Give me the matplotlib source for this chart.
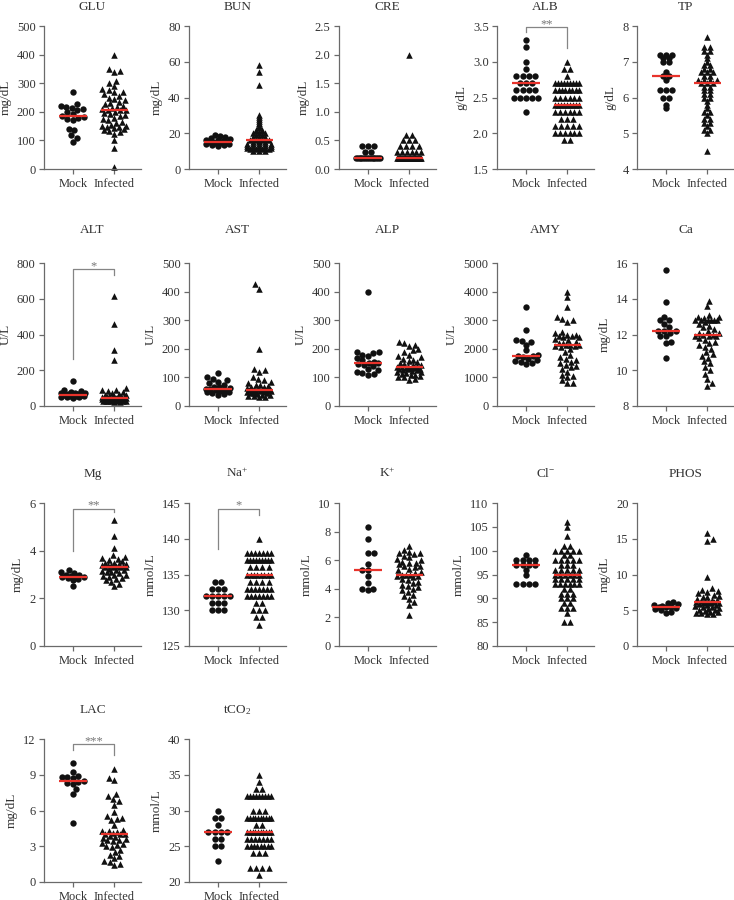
import numpy as np
import matplotlib
matplotlib.use('Agg')
import matplotlib.pyplot as plt

plt.rcParams['font.family'] = ['Liberation Serif', 'DejaVu Serif']
plt.rcParams['mathtext.fontset'] = 'custom'
plt.rcParams['mathtext.rm'] = 'Liberation Serif'
plt.rcParams['mathtext.it'] = 'Liberation Serif:italic'
plt.rcParams['mathtext.bf'] = 'Liberation Serif:bold'

# ---------------- data ----------------
groups = ['Mock', 'Infected']

titles = ['GLU', 'BUN', 'CRE', 'ALB', 'TP',
          'ALT', 'AST', 'ALP', 'AMY', 'Ca',
          'Mg', 'Na$^{+}$', 'K$^{+}$', 'Cl$^{-}$', 'PHOS',
          'LAC', 'tCO$_{2}$']
units = ['mg/dL', 'mg/dL', 'mg/dL', 'g/dL', 'g/dL',
         'U/L', 'U/L', 'U/L', 'U/L', 'mg/dL',
         'mg/dL', 'mmol/L', 'mmol/L', 'mmol/L', 'mg/dL',
         'mg/dL', 'mmol/L']

yticks = [
    [0, 100, 200, 300, 400, 500], [0, 20, 40, 60, 80], [0.0, 0.5, 1.0, 1.5, 2.0, 2.5],
    [1.5, 2.0, 2.5, 3.0, 3.5], [4, 5, 6, 7, 8],
    [0, 200, 400, 600, 800], [0, 100, 200, 300, 400, 500], [0, 100, 200, 300, 400, 500],
    [0, 1000, 2000, 3000, 4000, 5000], [8, 10, 12, 14, 16],
    [0, 2, 4, 6], [125, 130, 135, 140, 145], [0, 2, 4, 6, 8, 10],
    [80, 85, 90, 95, 100, 105, 110], [0, 5, 10, 15, 20],
    [0, 3, 6, 9, 12], [20, 25, 30, 35, 40]]
ytick_labels = [
    ['0', '100', '200', '300', '400', '500'], ['0', '20', '40', '60', '80'],
    ['0.0', '0.5', '1.0', '1.5', '2.0', '2.5'], ['1.5', '2.0', '2.5', '3.0', '3.5'],
    ['4', '5', '6', '7', '8'],
    ['0', '200', '400', '600', '800'], ['0', '100', '200', '300', '400', '500'],
    ['0', '100', '200', '300', '400', '500'], ['0', '1000', '2000', '3000', '4000', '5000'],
    ['8', '10', '12', '14', '16'],
    ['0', '2', '4', '6'], ['125', '130', '135', '140', '145'], ['0', '2', '4', '6', '8', '10'],
    ['80', '85', '90', '95', '100', '105', '110'], ['0', '5', '10', '15', '20'],
    ['0', '3', '6', '9', '12'], ['20', '25', '30', '35', '40']]

GLU_mock = [270, 227, 222, 218, 215, 210, 205, 198, 192, 185, 182, 178, 175, 172, 140, 135, 118, 110, 95]
GLU_inf = [400, 348, 342, 338, 308, 300, 290, 280, 275, 270, 268, 262, 255, 250, 245, 240, 235, 230, 226,
           222, 218, 214, 210, 208, 207, 206, 200, 196, 192, 188, 184, 180, 176, 172, 165, 160, 155, 152,
           150, 148, 146, 144, 140, 137, 133, 128, 122, 100, 75, 8]
BUN_mock = [19, 18.5, 18, 17.5, 17, 16.5, 16, 15.5, 15, 15, 15, 14.5, 14.5, 14, 14, 13.5, 13.5, 13]
BUN_inf = [58, 54, 47, 30, 29, 28, 27, 26, 25, 24, 23, 22, 22, 21, 21, 20, 20, 20, 19, 19, 18, 18, 18,
           17, 17, 17, 16, 16, 16, 16, 15.5, 15, 15, 15, 14, 14, 14, 14, 14, 13, 13, 13, 13, 13, 12, 12,
           12, 12, 12, 11, 11, 11, 11, 10, 10, 10]
CRE_mock = [0.4, 0.4, 0.4, 0.3, 0.3, 0.2, 0.2, 0.2, 0.2, 0.2, 0.2, 0.2, 0.2, 0.2, 0.2, 0.2, 0.2, 0.2, 0.2]
CRE_inf = [2.0, 0.6, 0.6, 0.5, 0.5, 0.5, 0.4, 0.4, 0.4, 0.4, 0.3, 0.3, 0.3, 0.3, 0.3, 0.3,
           0.2, 0.2, 0.2, 0.2, 0.2, 0.2, 0.2, 0.2, 0.2, 0.2, 0.2, 0.2, 0.2, 0.2, 0.2, 0.2, 0.2,
           0.2, 0.2, 0.2, 0.2, 0.2, 0.2, 0.2, 0.2, 0.2, 0.2, 0.2, 0.2, 0.2]
ALB_mock = [3.3, 3.2, 3.0, 2.9, 2.8, 2.8, 2.8, 2.8, 2.7, 2.7, 2.7, 2.6, 2.6, 2.6, 2.6,
            2.5, 2.5, 2.5, 2.5, 2.5, 2.3]
ALB_inf = [3.0, 2.9, 2.9, 2.8, 2.7, 2.7, 2.7, 2.7, 2.7, 2.7, 2.7, 2.7, 2.7,
           2.6, 2.6, 2.6, 2.6, 2.6, 2.6, 2.6, 2.6, 2.5, 2.5, 2.5, 2.5, 2.5, 2.5,
           2.4, 2.4, 2.4, 2.4, 2.4, 2.4, 2.4, 2.4, 2.4, 2.3, 2.3, 2.3, 2.3, 2.3, 2.3,
           2.2, 2.2, 2.2, 2.1, 2.1, 2.1, 2.1, 2.1, 2.0, 2.0, 2.0, 2.0, 2.0, 2.0, 1.9, 1.9]
TP_mock = [7.2, 7.2, 7.2, 7.1, 7.1, 7.0, 7.0, 6.7, 6.6, 6.6, 6.5, 6.2, 6.2, 6.2, 6.0, 6.0, 5.8, 5.7]
TP_inf = [7.7, 7.4, 7.4, 7.3, 7.3, 7.2, 7.1, 7.0, 6.9, 6.9, 6.8, 6.8, 6.7, 6.7, 6.7, 6.6, 6.6, 6.5,
          6.5, 6.5, 6.5, 6.4, 6.4, 6.4, 6.3, 6.3, 6.2, 6.2, 6.1, 6.1, 6.0, 6.0, 5.9, 5.8, 5.7, 5.6,
          5.6, 5.5, 5.4, 5.4, 5.3, 5.3, 5.2, 5.1, 5.1, 5.0, 4.5]
ALT_mock = [140, 90, 85, 80, 75, 72, 70, 68, 65, 62, 60, 60, 58, 56, 55, 52, 50, 48, 45]
ALT_inf = [615, 460, 315, 260, 98, 92, 88, 82, 78, 72, 68, 64, 60, 57, 55, 52, 50, 50, 48, 48, 47, 47,
           46, 46, 45, 45, 44, 43, 42, 41, 40, 39, 38, 37, 36, 35, 35, 34, 33, 32, 31, 30, 30, 29,
           28, 28, 27, 26, 25, 25]
AST_mock = [115, 100, 95, 92, 85, 80, 75, 68, 65, 62, 60, 58, 56, 55, 52, 50, 48, 45, 42, 40]
AST_inf = [425, 410, 198, 130, 125, 120, 100, 95, 90, 85, 80, 75, 72, 70, 68, 65, 62, 60, 60, 58, 57,
           57, 56, 55, 55, 54, 53, 52, 50, 48, 46, 45, 44, 42, 40, 38, 36, 35, 32, 30]
ALP_mock = [398, 190, 188, 185, 180, 175, 168, 160, 155, 152, 150, 148, 145, 140, 130, 125, 120, 115, 112, 110]
ALP_inf = [225, 220, 215, 210, 200, 195, 190, 180, 175, 170, 165, 160, 158, 155, 150, 148, 145, 142,
           140, 138, 136, 135, 134, 133, 132, 131, 130, 128, 126, 125, 123, 120, 118, 115, 112, 110,
           108, 105, 102, 100, 95, 90]
AMY_mock = [3450, 2650, 2300, 2280, 2250, 2150, 1950, 1800, 1760, 1760, 1700, 1650, 1600, 1580, 1550, 1500, 1480]
AMY_inf = [4000, 3800, 3450, 3100, 3050, 3000, 2950, 2600, 2550, 2500, 2500, 2450, 2450, 2400, 2400,
           2350, 2300, 2250, 2200, 2200, 2150, 2150, 2150, 2100, 2100, 2050, 2000, 1900, 1800, 1700,
           1650, 1600, 1550, 1500, 1450, 1400, 1350, 1300, 1200, 1100, 1050, 1000, 900, 800, 800]
Ca_mock = [15.6, 13.8, 13.0, 12.8, 12.8, 12.6, 12.4, 12.2, 12.2, 12.2, 12.1, 11.9, 11.9, 11.6, 11.5, 10.7]
Ca_inf = [13.9, 13.6, 13.1, 13.0, 13.0, 12.9, 12.8, 12.8, 12.8, 12.8, 12.8, 12.8, 12.7, 12.6, 12.5,
          12.4, 12.3, 12.2, 12.1, 12.1, 12.0, 12.0, 11.9, 11.9, 11.9, 11.8, 11.7, 11.6, 11.5, 11.4,
          11.3, 11.2, 11.0, 10.9, 10.8, 10.7, 10.5, 10.4, 10.2, 10.0, 9.8, 9.5, 9.3, 9.1]
Mg_mock = [3.2, 3.1, 3.05, 3.0, 3.0, 2.95, 2.9, 2.9, 2.9, 2.85, 2.8, 2.75, 2.5]
Mg_inf = [5.3, 4.6, 4.1, 3.8, 3.75, 3.7, 3.65, 3.6, 3.55, 3.5, 3.5, 3.45, 3.45, 3.4, 3.4, 3.4, 3.35,
          3.35, 3.3, 3.3, 3.3, 3.3, 3.25, 3.2, 3.2, 3.15, 3.1, 3.1, 3.05, 3.0, 3.0, 2.95, 2.9, 2.85,
          2.8, 2.75, 2.7, 2.6, 2.5]
Na_mock = [134, 134, 133, 133, 133, 132, 132, 132, 132, 132, 131, 131, 131, 130, 130, 130]
Na_inf = [140, 138, 138, 138, 138, 138, 138, 138, 137, 137, 137, 137, 137, 137, 137, 137, 137,
          136, 136, 136, 136, 135, 135, 135, 135, 135, 135, 135, 135, 134, 134, 134, 134,
          133, 133, 133, 133, 133, 133, 133, 132, 132, 132, 132, 132, 132, 132,
          131, 131, 130, 130, 130, 129, 129, 128]
K_mock = [8.3, 7.5, 6.5, 6.5, 5.7, 5.3, 5.3, 4.9, 4.4, 4.0, 4.0, 3.9]
K_inf = [7.0, 6.7, 6.6, 6.5, 6.5, 6.4, 6.3, 6.2, 6.1, 6.0, 5.9, 5.8, 5.8, 5.7, 5.6, 5.6, 5.5, 5.4,
         5.3, 5.2, 5.1, 5.0, 5.0, 4.95, 4.9, 4.9, 4.8, 4.7, 4.6, 4.5, 4.4, 4.3, 4.2, 4.1, 4.0, 3.9,
         3.8, 3.6, 3.5, 3.3, 3.1, 2.9, 2.2]
Cl_mock = [99, 98, 98, 98, 98, 97, 97, 97, 97, 96, 95, 93, 93, 93, 93]
Cl_inf = [106, 105, 103, 101, 101, 100, 100, 100, 100, 100, 99, 99, 98, 98, 98, 98, 98, 97, 97, 97,
          96, 96, 96, 96, 96, 95, 95, 95, 95, 95, 95, 94, 94, 94, 94, 94, 93, 93, 93, 93, 93, 93,
          92, 92, 91, 91, 91, 90, 90, 90, 89, 89, 88, 88, 88, 87, 85, 85]
PHOS_mock = [6.1, 6.0, 5.9, 5.8, 5.6, 5.5, 5.5, 5.4, 5.3, 5.2, 5.0, 4.8, 4.6]
PHOS_inf = [15.8, 14.9, 14.7, 9.7, 8.1, 7.8, 7.7, 7.6, 7.4, 7.2, 7.0, 6.9, 6.8, 6.6, 6.5, 6.4, 6.3,
            6.2, 6.1, 6.1, 6.1, 6.0, 6.0, 6.0, 5.9, 5.8, 5.7, 5.6, 5.5, 5.4, 5.3, 5.2, 5.1, 5.0, 4.9,
            4.8, 4.7, 4.6, 4.6, 4.5, 4.5]
LAC_mock = [10.0, 9.2, 8.9, 8.8, 8.8, 8.7, 8.5, 8.4, 8.3, 8.2, 7.8, 7.4, 4.95]
LAC_inf = [9.5, 8.7, 8.6, 7.4, 7.2, 7.0, 6.8, 6.5, 5.9, 5.5, 5.4, 5.3, 5.2, 4.8, 4.4, 4.3, 4.3, 4.2,
           4.1, 4.0, 4.0, 4.0, 3.9, 3.8, 3.7, 3.6, 3.5, 3.5, 3.4, 3.3, 3.2, 3.1, 3.0, 2.9, 2.7, 2.5,
           2.3, 2.2, 2.0, 1.8, 1.7, 1.5, 1.4]
tCO2_mock = [30, 29, 29, 28, 27, 27, 27, 27, 26, 26, 25, 25, 23]
tCO2_inf = [35, 34, 33, 33, 32, 32, 32, 32, 32, 32, 32, 32, 32, 30, 30, 30,
            29, 29, 29, 29, 29, 29, 29, 29, 29, 29, 28, 28, 27, 27, 27, 27, 27, 27, 27, 27, 27, 27,
            26, 26, 26, 26, 26, 26, 26, 25, 25, 25, 25, 25, 25, 25, 25, 24, 24, 24,
            22, 22, 22, 22, 21]

mock_values = [GLU_mock, BUN_mock, CRE_mock, ALB_mock, TP_mock, ALT_mock, AST_mock, ALP_mock,
               AMY_mock, Ca_mock, Mg_mock, Na_mock, K_mock, Cl_mock, PHOS_mock, LAC_mock, tCO2_mock]
inf_values = [GLU_inf, BUN_inf, CRE_inf, ALB_inf, TP_inf, ALT_inf, AST_inf, ALP_inf,
              AMY_inf, Ca_inf, Mg_inf, Na_inf, K_inf, Cl_inf, PHOS_inf, LAC_inf, tCO2_inf]

# significance brackets: panel index -> (top, left leg end, right leg end, label)
brackets = {3: (3.48, 3.42, 3.19, '**'),
            5: (765, 262, 733, '*'),
            10: (5.76, 3.99, 5.62, '**'),
            11: (144.2, 138.5, 143.35, '*'),
            15: (11.58, 11.1, 10.62, '***')}

# ---------------- layout ----------------
W, H = 734, 900
col_left = [44, 189, 339, 497, 637]
row_top = [26, 263, 503, 739]
title_base = [10, 233, 477, 713]
AX_W, AX_H = 97, 143
XLIM = (-0.7, 1.65)
PX_PER_X = AX_W / (XLIM[1] - XLIM[0])

SPINE = '#6a6a6a'
TXT = '#333333'
RED = '#e8332b'


def swarm_offsets(vals, px_per_unit, d=5.6, step_px=6.3, half_px=12.0):
    """Prism-like scatter layout: rows for discrete data, beeswarm for continuous."""
    vals = np.asarray(vals, float)
    n = len(vals)
    offs = np.zeros(n)
    uniq, counts = np.unique(vals, return_counts=True)
    if len(uniq) < 0.6 * n:
        for u in uniq:
            idx = np.where(vals == u)[0]
            k = len(idx)
            if k == 1:
                continue
            dx = min(step_px, 2 * half_px / (k - 1))
            offs[idx] = (np.arange(k) - (k - 1) / 2) * dx
        return offs / PX_PER_X
    y = vals * px_per_unit
    order = np.argsort(y, kind='stable')
    grid = np.arange(-half_px, half_px + 1e-9, 0.25)
    px, py = [], []
    toggle = 1
    for i in order:
        if px:
            ax_ = np.array(px)
            ay_ = np.array(py)
            near = np.abs(ay_ - y[i]) < d
        else:
            near = np.array([], bool)
        if near.any():
            nx = ax_[near]
            ny = ay_[near]
            dist = np.sqrt((grid[:, None] - nx[None, :]) ** 2 + (y[i] - ny[None, :]) ** 2).min(axis=1)
            ok = dist >= d
            if ok.any():
                cand = grid[ok]
                m = np.abs(cand).min()
                best = cand[np.isclose(np.abs(cand), m)]
                if len(best) > 1:
                    x = best.max() if toggle > 0 else best.min()
                    toggle = -toggle
                else:
                    x = best[0]
            else:
                score = dist - 0.01 * np.abs(grid)
                x = grid[np.argmax(score)]
        else:
            x = 0.0
        px.append(x)
        py.append(y[i])
        offs[i] = x
    return offs / PX_PER_X


fig = plt.figure(figsize=(W / 100, H / 100), dpi=100)

for p in range(len(titles)):
    r, c = divmod(p, 5)
    l, t = col_left[c], row_top[r]
    ax = fig.add_axes([l / W, 1 - (t + AX_H) / H, AX_W / W, AX_H / H])
    ymin, ymax = yticks[p][0], yticks[p][-1]
    ax.set_ylim(ymin, ymax)
    ax.set_xlim(*XLIM)
    ppu = AX_H / (ymax - ymin)
    for gi, (vals, mk) in enumerate([(mock_values[p], 'o'), (inf_values[p], '^')]):
        offs = swarm_offsets(vals, ppu)
        ax.scatter(gi + offs, vals, marker=mk, s=21 if mk == 'o' else 22, color='#111111',
                   linewidths=0, zorder=2, clip_on=False)
        med = np.median(vals)
        ax.hlines(med, gi - 0.33, gi + 0.33, color=RED, lw=1.6, zorder=3)
    ax.set_yticks(yticks[p])
    ax.set_yticklabels(ytick_labels[p])
    ax.set_xticks([0, 1])
    ax.set_xticklabels(groups)
    for s in ['top', 'right']:
        ax.spines[s].set_visible(False)
    for s in ['left', 'bottom']:
        ax.spines[s].set_color(SPINE)
        ax.spines[s].set_linewidth(0.9)
    ax.tick_params(direction='out', length=3.5, width=0.9, color=SPINE,
                   labelcolor=TXT, labelsize=9, pad=2.5)
    ax.tick_params(axis='x', labelsize=9, pad=3)
    ax.set_ylabel(units[p], fontsize=9.5, color=TXT, labelpad=4)
    fig.text((l + AX_W / 2) / W, 1 - title_base[r] / H, titles[p], ha='center',
             va='baseline', fontsize=9.5, color=TXT)
    if p in brackets:
        top, lb, rb, lab = brackets[p]
        ax.plot([0, 0, 1, 1], [lb, top, top, rb], color='#858585', lw=0.9,
                clip_on=False, zorder=1)
        ax.text(0.5, top, lab, ha='center', va='baseline', fontsize=9,
                color='#777777', clip_on=False)

fig.savefig('out.png', dpi=100)
